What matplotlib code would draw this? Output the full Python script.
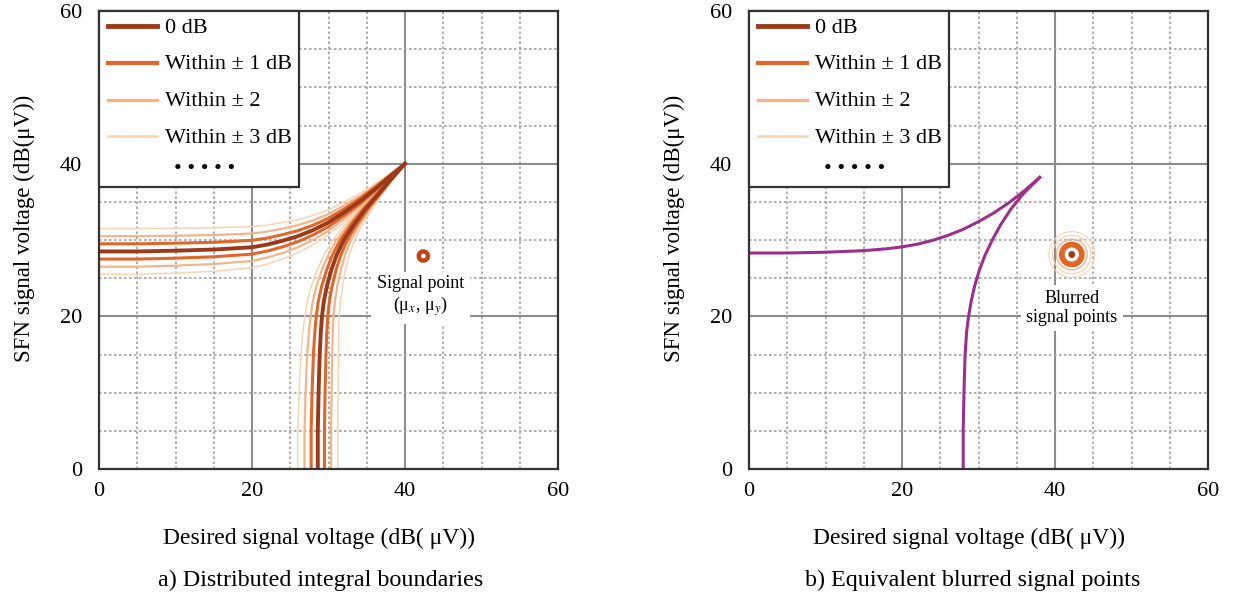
import matplotlib
matplotlib.use('Agg')
import matplotlib.pyplot as plt
from matplotlib.lines import Line2D
from matplotlib.legend_handler import HandlerLine2D
from matplotlib.patches import Circle

plt.rcParams['font.family'] = ['Liberation Serif', 'DejaVu Serif']
plt.rcParams['mathtext.fontset'] = 'stix'

# ---- data ----
ticks = [0, 20, 40, 60]

# panel a: 0 dB boundary, upper branch (y over x) and lower branch (x over y)
a_up_x = [0, 5, 10, 15, 20, 22, 24, 26, 28, 30, 32, 34, 36, 38, 40]
a_up_y = [28.5, 28.5, 28.6, 28.75, 29.05, 29.4, 29.9, 30.5, 31.3, 32.3, 33.6, 35.0, 36.6, 38.3, 40.0]
a_lo_y = [0, 5, 10, 15, 18, 20, 22, 24, 26, 28, 30, 32, 34, 36, 38, 40]
a_lo_x = [28.6, 28.6, 28.7, 28.85, 29.0, 29.15, 29.4, 29.8, 30.35, 31.05, 32.0, 33.3, 34.8, 36.5, 38.2, 40.0]
# how far a 1 dB step moves each branch at those points (bands close at the cusp)
a_up_spread = [1.0, 1.0, 0.98, 0.95, 0.9, 0.85, 0.8, 0.72, 0.64, 0.55, 0.45, 0.34, 0.23, 0.12, 0.0]
a_lo_spread = [0.87, 0.87, 0.85, 0.82, 0.78, 0.75, 0.72, 0.68, 0.62, 0.55, 0.47, 0.38, 0.28, 0.18, 0.09, 0.0]
band_db = [3, 2, 1]

# panel b: equivalent boundary
b_up_x = [0, 5, 10, 15, 18, 20, 22, 24, 26, 28, 30, 32, 34, 36, 38]
b_up_y = [28.3, 28.3, 28.4, 28.6, 28.85, 29.1, 29.45, 29.95, 30.6, 31.4, 32.4, 33.55, 34.9, 36.45, 38.2]
b_lo_y = [0, 5, 10, 15, 18, 20, 22, 24, 26, 28, 30, 32, 34, 36, 38.2]
b_lo_x = [28.0, 28.0, 28.1, 28.25, 28.45, 28.7, 29.05, 29.5, 30.1, 30.85, 31.8, 32.9, 34.2, 35.8, 38.0]

# signal points
sig_a = (42.4, 27.9)
sig_b = (42.2, 28.1)
blur_r = [1.3, 2.0, 2.5, 3.0]

legend_labels = ['0 dB', 'Within \u00b1 1 dB', 'Within \u00b1 2', 'Within \u00b1 3 dB']
dots_label = '\u2022 \u2022 \u2022 \u2022 \u2022'

# ---- styles ----
c0 = '#9a3a1a'
c1 = '#e0672a'
c2 = '#f2b58a'
c3 = '#f7d3b4'
band_col = {1: c1, 2: c2, 3: c3}
band_lw = {1: 2.2, 2: 1.6, 3: 1.1}
magenta = '#9c2f8e'


def style_axes(ax):
    ax.set_xlim(0, 60)
    ax.set_ylim(0, 60)
    ax.set_xticks(ticks)
    ax.set_yticks(ticks)
    ax.set_xticks(range(0, 61, 5), minor=True)
    ax.set_yticks(range(0, 61, 5), minor=True)
    ax.grid(which='major', color='#8c8c8c', lw=1.5, ls='-')
    ax.grid(which='minor', color='#a0a0a0', lw=1.2, ls=(0, (1.5, 1.5)))
    ax.set_axisbelow(True)
    ax.tick_params(which='both', length=0, labelsize=16)
    ax.tick_params(axis='x', pad=9)
    ax.tick_params(axis='y', pad=12)
    for s in ax.spines.values():
        s.set_color('#333333')
        s.set_linewidth(1.6)
    ax.set_xlabel('Desired signal voltage (dB( \u03bcV))', fontsize=17)
    ax.xaxis.set_label_coords(0.48, -0.128)
    ax.set_ylabel('SFN signal voltage (dB(\u03bcV))', fontsize=16.5)
    ax.yaxis.set_label_coords(-0.139, 0.525)

    # last (empty) row only makes room for the row of dots
    handles = [Line2D([], [], color=c0, lw=3.5),
               Line2D([], [], color=c1, lw=3.0),
               Line2D([], [], color=c2, lw=2.4),
               Line2D([], [], color=c3, lw=1.8),
               Line2D([], [], color='none')]
    leg = ax.legend(handles, legend_labels + [''],
                    loc='upper left', bbox_to_anchor=(0, 1), borderaxespad=0,
                    fancybox=False, framealpha=1, edgecolor='#333333',
                    fontsize=16, handlelength=2.25, handletextpad=0.37,
                    labelspacing=0.8, borderpad=0.34, handleheight=0.3,
                    handler_map={Line2D: HandlerLine2D(xpad=0.05)})
    leg.get_texts()[-1].set_fontsize(3)
    leg.get_frame().set_linewidth(1.6)
    leg.set_zorder(10)
    ax.text(0.231, 0.653, dots_label, transform=ax.transAxes, ha='center', va='center',
            fontsize=16, zorder=11)


fig = plt.figure(figsize=(12.33, 6.03), dpi=100)
ax_a = fig.add_axes([99 / 1233, 134 / 603, 459 / 1233, 458 / 603])
ax_b = fig.add_axes([749 / 1233, 134 / 603, 459 / 1233, 458 / 603])

# panel a: bands of boundaries
for k in band_db:
    for sgn in (1, -1):
        ys = [y + sgn * k * s for y, s in zip(a_up_y, a_up_spread)]
        xs = [x + sgn * k * s for x, s in zip(a_lo_x, a_lo_spread)]
        ax_a.plot(a_up_x, ys, color=band_col[k], lw=band_lw[k], solid_capstyle='butt')
        ax_a.plot(xs, a_lo_y, color=band_col[k], lw=band_lw[k], solid_capstyle='butt')
ax_a.plot(a_up_x, a_up_y, color=c0, lw=2.8)
ax_a.plot(a_lo_x, a_lo_y, color=c0, lw=2.8)

ax_a.add_patch(Circle(sig_a, 0.6, facecolor='white', edgecolor='#c0461a', lw=3.2, zorder=5))
ax_a.text(42.0, 22.6, 'Signal point\n(\u03bc$_x$, \u03bc$_y$)', ha='center', va='center',
          fontsize=13, linespacing=1.2, bbox=dict(facecolor='white', edgecolor='none', pad=4))

# panel b
ax_b.plot(b_up_x, b_up_y, color=magenta, lw=2.2)
ax_b.plot(b_lo_x, b_lo_y, color=magenta, lw=2.2)

ring_col = [c1, c2, c3, c3]
ring_lw = [4.2, 1.0, 0.9, 0.8]
for r, c, w in zip(blur_r, ring_col, ring_lw):
    ax_b.add_patch(Circle(sig_b, r, facecolor='none', edgecolor=c, lw=w, zorder=5))
ax_b.add_patch(Circle(sig_b, 0.45, facecolor=c0, edgecolor='none', zorder=6))
ax_b.text(42.2, 21.1, 'Blurred\nsignal points', ha='center', va='center',
          fontsize=13, linespacing=1.1, bbox=dict(facecolor='white', edgecolor='none', pad=4))

style_axes(ax_a)
style_axes(ax_b)

fig.text(321 / 1233, 1 - 580 / 603, 'a) Distributed integral boundaries',
         ha='center', va='center', fontsize=17.4)
fig.text(973 / 1233, 1 - 580 / 603, 'b) Equivalent blurred signal points',
         ha='center', va='center', fontsize=17.4)

fig.savefig('out.png', dpi=100)
